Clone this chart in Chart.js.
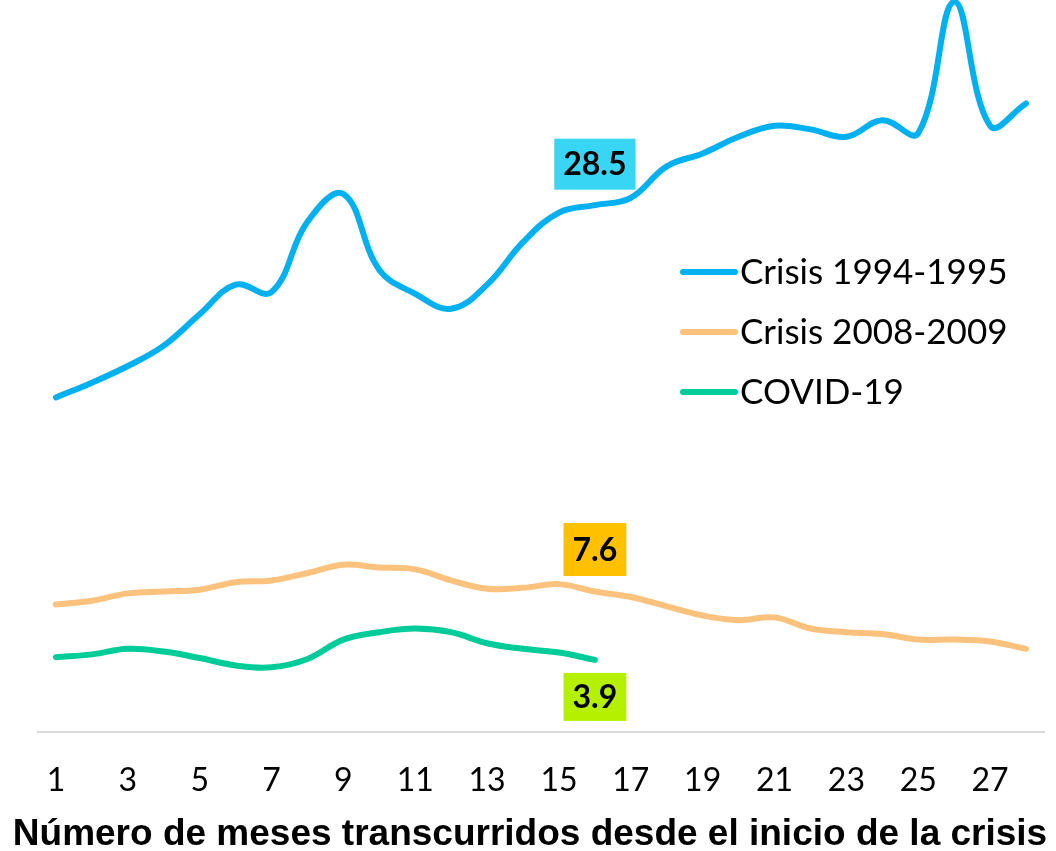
<!DOCTYPE html>
<html>
<head>
<meta charset="utf-8">
<script src="https://cdn.jsdelivr.net/npm/chart.js@4"></script>
<style>
  html, body { margin: 0; padding: 0; background: #fff; }
  #wrap { width: 1056px; height: 851px; position: relative; }
</style>
</head>
<body>
<div id="wrap"><canvas id="chart"></canvas></div>
<script>
// ======================
// DATOS
// ======================
const months = ['1','2','3','4','5','6','7','8','9','10','11','12','13','14','15','16','17','18','19','20','21','22','23','24','25','26','27','28'];
const crisis9495 = [18.1, 18.9, 19.8, 20.9, 22.6, 24.2, 23.8, 27.6, 29.1, 25.0, 23.7, 22.9, 24.2, 26.5, 28.1, 28.5, 28.9, 30.6, 31.3, 32.2, 32.8, 32.6, 32.2, 33.1, 32.4, 39.5, 32.8, 34.0];
const crisis0809 = [6.9, 7.1, 7.5, 7.6, 7.7, 8.1, 8.2, 8.6, 9.05, 8.9, 8.8, 8.2, 7.75, 7.8, 8.0, 7.6, 7.3, 6.8, 6.3, 6.05, 6.2, 5.6, 5.4, 5.3, 5.0, 5.0, 4.9, 4.5];
const covid19 = [4.05, 4.2, 4.5, 4.35, 4.0, 3.6, 3.5, 3.95, 5.0, 5.4, 5.6, 5.4, 4.8, 4.5, 4.3, 3.9];
const seriesNames = ['Crisis 1994-1995', 'Crisis 2008-2009', 'COVID-19'];
const xTitle = 'Número de meses transcurridos desde el inicio de la crisis';
const labelIndex = 15; // mes 16

// ======================
// PLUGINS
// ======================
// leyenda dentro del área
const insideLegend = {
  id: 'insideLegend',
  afterDraw(chart) {
    const ctx = chart.ctx;
    ctx.save();
    chart.data.datasets.forEach((ds, i) => {
      const y = 272 + i * 60;
      ctx.strokeStyle = ds.borderColor;
      ctx.lineWidth = 6;
      ctx.lineCap = 'round';
      ctx.beginPath(); ctx.moveTo(683, y); ctx.lineTo(735, y); ctx.stroke();
      ctx.fillStyle = '#000';
      ctx.font = '35px Lato';
      ctx.textBaseline = 'middle';
      ctx.textAlign = 'left';
      ctx.fillText(ds.label, 740, y + 1);
    });
    ctx.restore();
  }
};

// título del eje X (centrado en el lienzo, no en el área)
const axisTitle = {
  id: 'axisTitle',
  afterDraw(chart) {
    const ctx = chart.ctx;
    ctx.save();
    ctx.font = 'bold 37px "Liberation Sans"';
    ctx.fillStyle = '#000';
    ctx.textAlign = 'center';
    ctx.textBaseline = 'alphabetic';
    ctx.fillText(xTitle, 530, 845);
    ctx.restore();
  }
};

// etiquetas de valor con fondo
const valueLabels = {
  id: 'valueLabels',
  afterDatasetsDraw(chart) {
    const ctx = chart.ctx;
    const boxes = [
      { ds: 0, bg: '#38D6F4', dy: -41, h: 51 },
      { ds: 1, bg: '#FFC000', dy: -42, h: 53 },
      { ds: 2, bg: '#B4F000', dy: 37, h: 48 }
    ];
    ctx.save();
    ctx.font = 'bold 32px Lato';
    boxes.forEach(b => {
      const pt = chart.getDatasetMeta(b.ds).data[labelIndex];
      const txt = chart.data.datasets[b.ds].data[labelIndex].toFixed(1);
      const w = ctx.measureText(txt).width + 18;
      const cx = pt.x, cy = pt.y + b.dy;
      ctx.fillStyle = b.bg;
      ctx.fillRect(cx - w / 2, cy - b.h / 2, w, b.h);
      ctx.fillStyle = '#000';
      ctx.textAlign = 'center';
      ctx.textBaseline = 'middle';
      ctx.fillText(txt, cx, cy + 1);
    });
    ctx.restore();
  }
};

// ======================
// GRÁFICO
// ======================
const ctx = document.getElementById('chart').getContext('2d');
new Chart(ctx, {
  type: 'line',
  data: {
    labels: months,
    datasets: [
      { label: seriesNames[0], data: crisis9495, borderColor: '#00B0F0', borderWidth: 6, tension: 0.4, pointRadius: 0, borderCapStyle: 'round' },
      { label: seriesNames[1], data: crisis0809, borderColor: '#FBC27E', borderWidth: 6, tension: 0.4, pointRadius: 0, borderCapStyle: 'round' },
      { label: seriesNames[2], data: covid19, borderColor: '#00CC99', borderWidth: 6, tension: 0.4, pointRadius: 0, borderCapStyle: 'round' }
    ]
  },
  options: {
    responsive: true,
    maintainAspectRatio: false,
    animation: false,
    layout: { padding: { left: 38, right: 12, top: 0, bottom: 0 } },
    plugins: { legend: { display: false }, tooltip: { enabled: false } },
    scales: {
      x: {
        offset: true,
        afterFit(scale) { scale.height = 119; }, // alto fijo del eje (ticks + título)
        grid: { display: false, drawTicks: false },
        border: { display: true, color: '#D9D9D9', width: 2 },
        ticks: {
          color: '#000',
          font: { family: 'Lato', size: 32 },
          padding: 29,
          autoSkip: false,
          maxRotation: 0,
          callback: function(v, i) { return i % 2 === 0 ? this.getLabelForValue(v) : ''; }
        },
        title: { display: false }
      },
      y: { display: false, min: 0, max: 39.6 }
    }
  },
  plugins: [valueLabels, insideLegend, axisTitle]
});
</script>
</body>
</html>
